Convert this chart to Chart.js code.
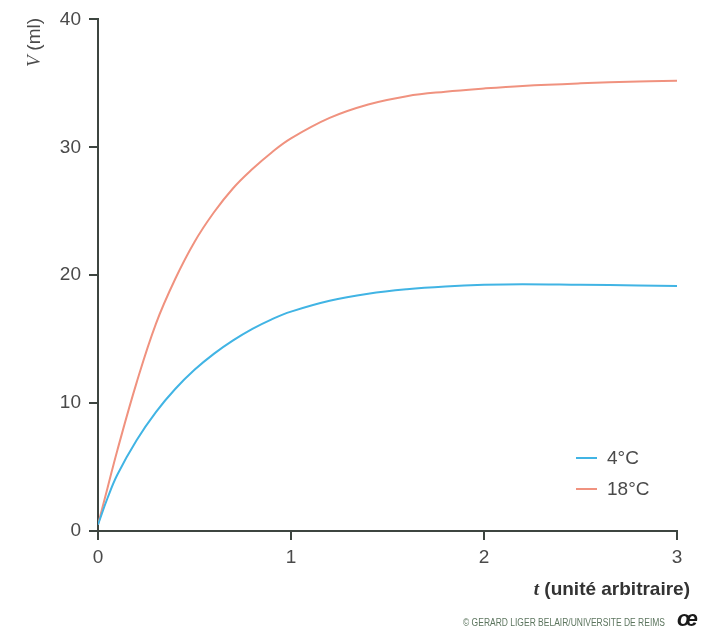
<!DOCTYPE html>
<html>
<head>
<meta charset="utf-8">
<script src="https://cdn.jsdelivr.net/npm/chart.js@4/dist/chart.umd.min.js"></script>
<style>
  html, body { margin: 0; padding: 0; background: #fff; }
  #wrap { width: 708px; height: 632px; position: relative; }
</style>
</head>
<body>
<div id="wrap"><canvas id="c" width="708" height="632"></canvas></div>
<script>
// Time (arbitrary units) and volume (ml) for the two temperatures
const times = [0, 0.05, 0.1, 0.2, 0.3, 0.4, 0.5, 0.6, 0.7, 0.8, 0.9, 1.0, 1.2, 1.4, 1.6, 1.8, 2.0, 2.2, 2.5, 2.8, 3.0];
const v4C   = [0.5, 2.6, 4.4, 7.1, 9.3, 11.1, 12.6, 13.85, 14.9, 15.8, 16.55, 17.15, 18.0, 18.55, 18.9, 19.12, 19.25, 19.3, 19.25, 19.2, 19.15];
const v18C  = [0.5, 3.4, 6.3, 11.6, 16.2, 19.7, 22.6, 24.9, 26.8, 28.3, 29.6, 30.7, 32.3, 33.35, 34.0, 34.35, 34.6, 34.8, 35.0, 35.15, 35.2];
const seriesNames = ['4°C', '18°C'];
const xTicks = [0, 1, 2, 3];
const yTicks = [0, 10, 20, 30, 40];

const AXIS = '#3d4540';
const LABEL = '#4a4a4a';
const BLUE = '#41b4e4';
const SALMON = '#f0927f';

const toPoints = (xs, ys) => xs.map((x, i) => ({ x: x, y: ys[i] }));

// Titles, legend and credit line drawn on top of the chart
const decorations = {
  id: 'decorations',
  afterDraw(chart) {
    const ctx = chart.ctx;
    ctx.save();

    // y axis title: italic V followed by (ml), rotated
    ctx.translate(40, 67);
    ctx.rotate(-Math.PI / 2);
    ctx.fillStyle = LABEL;
    ctx.textBaseline = 'alphabetic';
    ctx.textAlign = 'left';
    ctx.font = 'italic 19px "Liberation Serif"';
    ctx.fillText('V', 0, 0);
    let w = ctx.measureText('V ').width;
    ctx.font = '19px "Liberation Sans"';
    ctx.fillText('(ml)', w, 0);
    ctx.restore();

    // x axis title: italic t followed by bold text, right aligned
    ctx.save();
    ctx.fillStyle = '#333';
    ctx.textBaseline = 'alphabetic';
    ctx.textAlign = 'left';
    ctx.font = 'bold 19px "Liberation Sans"';
    const rest = ' (unité arbitraire)';
    const restW = ctx.measureText(rest).width;
    ctx.font = 'italic bold 19px "Liberation Serif"';
    const tW = ctx.measureText('t').width;
    const right = 690;
    const startX = right - restW - tW;
    ctx.fillText('t', startX, 595);
    ctx.font = 'bold 19px "Liberation Sans"';
    ctx.fillText(rest, startX + tW, 595);
    ctx.restore();

    // legend
    ctx.save();
    const colors = [BLUE, SALMON];
    const rows = [458, 489];
    ctx.font = '19px "Liberation Sans"';
    ctx.textBaseline = 'middle';
    ctx.textAlign = 'left';
    seriesNames.forEach((name, i) => {
      ctx.strokeStyle = colors[i];
      ctx.lineWidth = 2;
      ctx.beginPath();
      ctx.moveTo(576, rows[i]);
      ctx.lineTo(597, rows[i]);
      ctx.stroke();
      ctx.fillStyle = LABEL;
      ctx.fillText(name, 607, rows[i] + 1);
    });
    ctx.restore();

    // credit line and logo
    ctx.save();
    ctx.fillStyle = '#5d765f';
    ctx.font = '10px "Liberation Sans Narrow", "Liberation Sans"';
    ctx.textBaseline = 'middle';
    ctx.textAlign = 'left';
    const credit = '© GERARD LIGER BELAIR/UNIVERSITE DE REIMS';
    const cw = ctx.measureText(credit).width;
    ctx.translate(463, 623);
    ctx.scale(202 / cw, 1);
    ctx.fillText(credit, 0, 0);
    ctx.restore();

    ctx.save();
    ctx.fillStyle = '#1a1a1a';
    ctx.font = 'italic bold 22px "Liberation Sans"';
    ctx.textBaseline = 'middle';
    ctx.textAlign = 'left';
    ctx.fillText('œ', 677, 620);
    ctx.restore();
  }
};

new Chart(document.getElementById('c'), {
  type: 'line',
  data: {
    datasets: [
      {
        label: seriesNames[0],
        data: toPoints(times, v4C),
        borderColor: BLUE,
        borderWidth: 2,
        pointRadius: 0,
        fill: false,
        tension: 0.4
      },
      {
        label: seriesNames[1],
        data: toPoints(times, v18C),
        borderColor: SALMON,
        borderWidth: 2,
        pointRadius: 0,
        fill: false,
        tension: 0.4
      }
    ]
  },
  options: {
    responsive: false,
    animation: false,
    events: [],
    layout: { padding: { left: 0, right: 31, top: 19, bottom: 0 } },
    plugins: {
      legend: { display: false },
      tooltip: { enabled: false }
    },
    scales: {
      x: {
        type: 'linear',
        min: 0,
        max: 3,
        afterBuildTicks(scale) { scale.ticks = xTicks.map(v => ({ value: v })); },
        afterFit(scale) { scale.height = 101; },
        ticks: {
          color: LABEL,
          font: { family: '"Liberation Sans"', size: 19 },
          padding: 6,
          maxRotation: 0
        },
        grid: {
          drawOnChartArea: false,
          drawTicks: true,
          tickLength: 9,
          color: AXIS,
          lineWidth: 2
        },
        border: { display: true, color: AXIS, width: 2 }
      },
      y: {
        type: 'linear',
        min: 0,
        max: 40,
        afterBuildTicks(scale) { scale.ticks = yTicks.map(v => ({ value: v })); },
        afterFit(scale) { scale.width = 98; },
        ticks: {
          color: LABEL,
          font: { family: '"Liberation Sans"', size: 19 },
          padding: 8
        },
        grid: {
          drawOnChartArea: false,
          drawTicks: true,
          tickLength: 9,
          color: AXIS,
          lineWidth: 2
        },
        border: { display: true, color: AXIS, width: 2 }
      }
    }
  },
  plugins: [decorations]
});
</script>
</body>
</html>
